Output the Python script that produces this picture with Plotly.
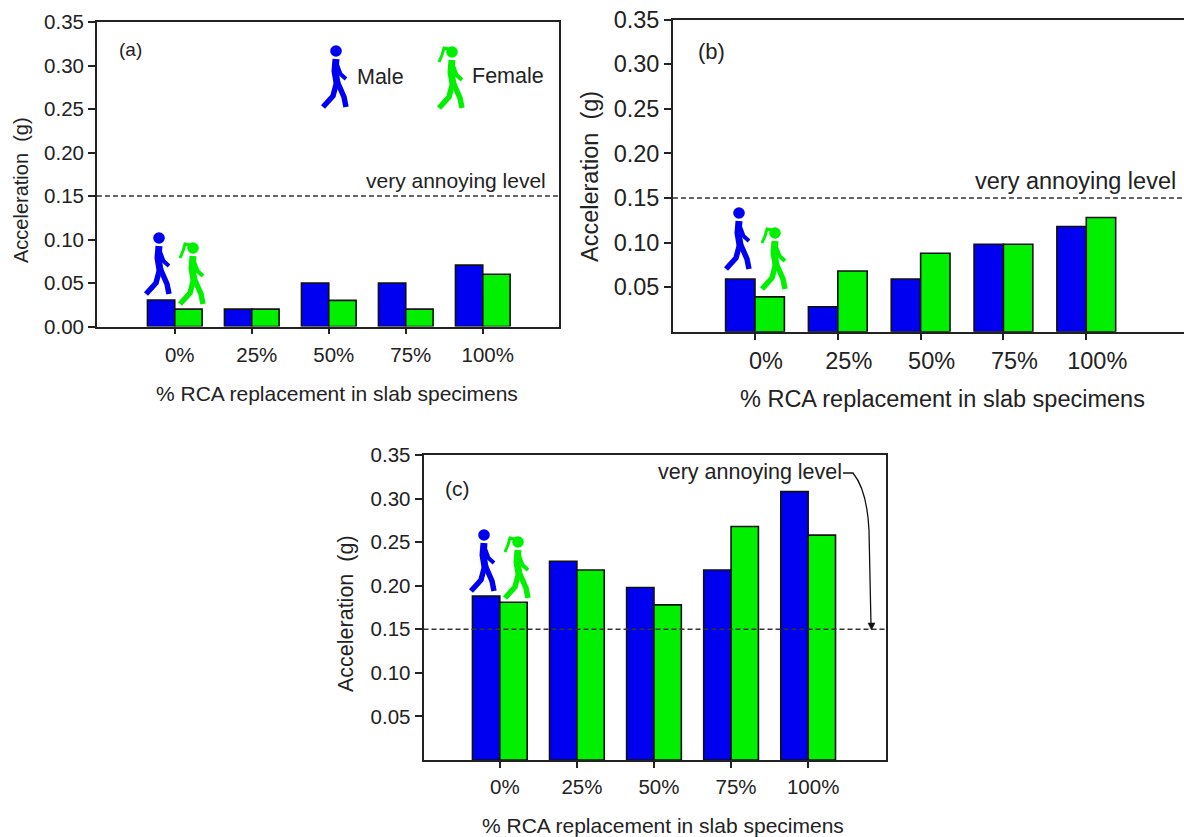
import plotly.graph_objects as go

W, H = 1184, 837
categories = ["0%", "25%", "50%", "75%", "100%"]
male_a = [0.0305, 0.02, 0.05, 0.05, 0.0705]
female_a = [0.02, 0.02, 0.03, 0.02, 0.06]
male_b = [0.059, 0.028, 0.059, 0.098, 0.118]
female_b = [0.039, 0.068, 0.088, 0.098, 0.128]
male_c = [0.188, 0.228, 0.198, 0.218, 0.308]
female_c = [0.181, 0.218, 0.178, 0.268, 0.258]
threshold = 0.15
xlabel = "% RCA replacement in slab specimens"
ylabel = "Acceleration\u00a0 (g)"
annoy = "very annoying level"

BLUE, GREEN, INK = "#0000f0", "#00f000", "#222222"
FONT = "Liberation Sans, Arial, sans-serif"

panels = [
    dict(s="", box=(97, 22, 559, 326.5), xr=(-1.01, 4.99), male=male_a, female=female_a,
         tv=[0, .05, .10, .15, .20, .25, .30, .35], fs=20.5, shift=5, standoff=3),
    dict(s="2", box=(673, 19.5, 1184, 331.7), xr=(-0.99, 5.18), male=male_b, female=female_b,
         tv=[.05, .10, .15, .20, .25, .30, .35], fs=23.5, shift=11, standoff=1),
    dict(s="3", box=(423.5, 455, 886, 760), xr=(-0.99, 5.01), male=male_c, female=female_c,
         tv=[.05, .10, .15, .20, .25, .30, .35], fs=20.5, shift=5, standoff=1),
]

fig = go.Figure()
layout = {}
shapes = []
for p in panels:
    x0, y0, x1, y1 = p["box"]
    xa, ya = "xaxis" + p["s"], "yaxis" + p["s"]
    xid, yid = "x" + p["s"], "y" + p["s"]
    for name, vals, col in (("Male", p["male"], BLUE), ("Female", p["female"], GREEN)):
        fig.add_trace(go.Bar(x=categories, y=vals, name=name, xaxis=xid, yaxis=yid, showlegend=False,
                             marker=dict(color=col, line=dict(color="#111111", width=1.6))))
    layout[xa] = dict(domain=[x0 / W, x1 / W], anchor=yid, type="category", categoryorder="array",
                      categoryarray=categories, range=list(p["xr"]), showgrid=False, zeroline=False,
                      automargin=False, showline=True, mirror=True, linecolor=INK, linewidth=1.8,
                      ticks="outside", ticklen=6, tickwidth=1.5, tickcolor=INK, ticklabelshift=p["shift"],
                      ticklabelstandoff=p["standoff"], tickfont=dict(family=FONT, size=p["fs"], color=INK))
    layout[ya] = dict(domain=[1 - y1 / H, 1 - y0 / H], anchor=xid, range=[0, 0.35], tickmode="array",
                      tickvals=p["tv"], ticktext=[f"{v:.2f}" for v in p["tv"]], showgrid=False, zeroline=False,
                      automargin=False, showline=True, mirror=True, linecolor=INK, linewidth=1.8,
                      ticks="outside", ticklen=7, tickwidth=1.5, tickcolor=INK,
                      tickfont=dict(family=FONT, size=p["fs"], color=INK))
    shapes.append(dict(type="line", xref=xa.replace("axis", "") + " domain", yref=yid, x0=0, x1=1,
                       y0=threshold, y1=threshold, layer="above",
                       line=dict(color="#333333", width=1.5, dash="5px,3px")))


def path(points, col, width):
    d = ""
    for i, (x, y) in enumerate(points):
        d += f"{'M' if i == 0 else 'L'}{x / W:.5f},{1 - y / H:.5f} "
    return dict(type="path", xref="paper", yref="paper", path=d.strip(), layer="above",
                line=dict(color=col, width=width))


def walker(cx, cy, col, female=False):
    out = [dict(type="circle", xref="paper", yref="paper", x0=(cx - 5.8) / W, x1=(cx + 5.8) / W,
                y0=1 - (cy + 5.8) / H, y1=1 - (cy - 5.8) / H, fillcolor=col, line=dict(width=0), layer="above")]
    out.append(path([(cx, cy + 8), (cx - 1, cy + 20), (cx + 1, cy + 32)], col, 7))
    out.append(path([(cx, cy + 11), (cx + 4.5, cy + 23), (cx + 10, cy + 28)], col, 4))
    out.append(path([(cx + 1, cy + 30), (cx - 3, cy + 45), (cx - 13, cy + 56)], col, 5.5))
    out.append(path([(cx + 1, cy + 30), (cx + 8, cy + 46), (cx + 10, cy + 56)], col, 5.5))
    if female:
        out.append(path([(cx - 3, cy - 3), (cx - 8, cy - 4), (cx - 10, cy + 3), (cx - 13, cy + 10)], col, 3))
    return out


for cx, cy, col, fem in [(336, 51, BLUE, False), (452, 52, GREEN, True),
                         (159, 238, BLUE, False), (193, 248, GREEN, True),
                         (739, 213, BLUE, False), (775, 233, GREEN, True),
                         (484, 535, BLUE, False), (518, 542, GREEN, True)]:
    shapes += walker(cx, cy, col, fem)

# leader arrow in panel (c)
a = [(843, 473), (853, 473), (867, 490), (869, 530)]
shapes.append(dict(type="path", xref="paper", yref="paper", layer="above", line=dict(color="#111111", width=1.3),
                   path=(f"M{a[0][0]/W:.5f},{1-a[0][1]/H:.5f} L{a[1][0]/W:.5f},{1-a[1][1]/H:.5f} "
                         f"Q{a[2][0]/W:.5f},{1-a[2][1]/H:.5f} {a[3][0]/W:.5f},{1-a[3][1]/H:.5f} "
                         f"L{871/W:.5f},{1-625/H:.5f}")))
shapes.append(dict(type="path", xref="paper", yref="paper", layer="above", fillcolor="#111111",
                   line=dict(color="#111111", width=0.5),
                   path=f"M{868/W:.5f},{1-623/H:.5f} L{875/W:.5f},{1-623/H:.5f} L{871.5/W:.5f},{1-630/H:.5f} Z"))


def note(text, x, y, size, angle=0):
    return dict(text=text, xref="paper", yref="paper", x=x / W, y=1 - y / H, xanchor="center", yanchor="middle",
                showarrow=False, textangle=angle, font=dict(family=FONT, size=size, color=INK))


annotations = [
    note("(a)", 130, 50, 19), note("(b)", 711, 52, 22), note("(c)", 457, 489, 21),
    note("Male", 380, 77, 21.5), note("Female", 508, 76, 21.5),
    note(annoy, 455.5, 180, 21), note(annoy, 1075, 181, 23.5), note(annoy, 750, 472, 21.5),
    note(xlabel, 337, 393, 21), note(xlabel, 942, 399, 23.5), note(xlabel, 663, 825, 21),
    note(ylabel, 21, 190, 20, -90), note(ylabel, 590, 177, 23.5, -90), note(ylabel, 346, 614, 21.5, -90),
]

fig.update_layout(width=W, height=H, margin=dict(l=0, r=0, t=0, b=0), autosize=False, barmode="group",
                  bargap=0.29, bargroupgap=0, plot_bgcolor="white", paper_bgcolor="white",
                  shapes=shapes, annotations=annotations, **layout)
fig.write_html("out.html", post_script="document.body.style.margin='0';", config={"displayModeBar": False})
